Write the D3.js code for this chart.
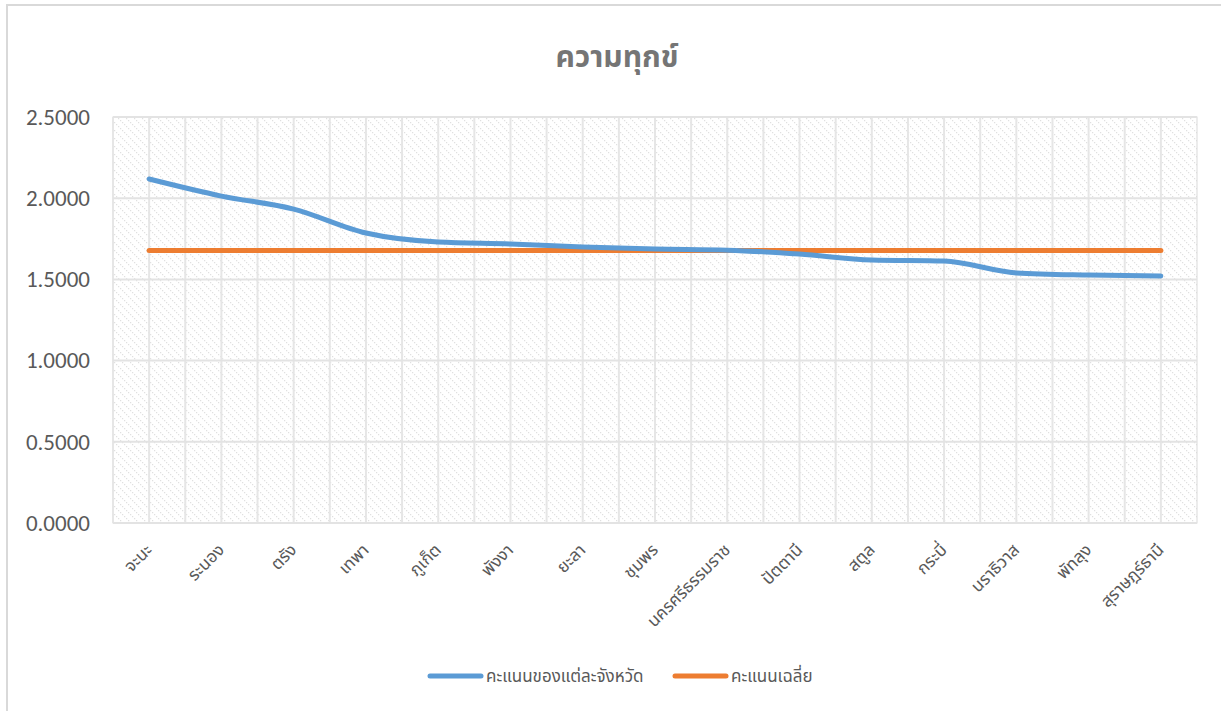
<!DOCTYPE html>
<html><head><meta charset="utf-8">
<script src="https://cdn.jsdelivr.net/npm/d3@7"></script>
<style>
body{margin:0;background:#fff;}
text{font-family:"Noto Sans Thai","Noto Sans","DejaVu Sans",sans-serif;}
</style></head>
<body>
<svg id="c" width="1221" height="711"></svg>
<script>
const categories = ["จะนะ","ระนอง","ตรัง","เทพา","ภูเก็ต","พังงา","ยะลา","ชุมพร","นครศรีธรรมราช","ปัตตานี","สตูล","กระบี่","นราธิวาส","พัทลุง","สุราษฎร์ธานี"];
const provinceScores = [2.118,2.013,1.933,1.786,1.730,1.718,1.700,1.687,1.680,1.656,1.620,1.613,1.540,1.527,1.521];
const averageScore = [1.678,1.678,1.678,1.678,1.678,1.678,1.678,1.678,1.678,1.678,1.678,1.678,1.678,1.678,1.678];
const yTicks = [0,0.5,1,1.5,2,2.5];
const seriesNames = ["คะแนนของแต่ละจังหวัด","คะแนนเฉลี่ย"];
const seriesColors = ["#5b9bd5","#ed7d31"];
const title = "ความทุกข์";

const svg = d3.select("#c");
const W=1221,H=711;
const m={left:113,right:1197,top:117,bottom:523};

svg.append("path").attr("d",`M7,${H} L7,5 L${W},5`).attr("fill","none").attr("stroke","#d9d9d9").attr("stroke-width",2);

const defs=svg.append("defs");
const pat=defs.append("pattern").attr("id","hatch").attr("width",8).attr("height",8).attr("patternUnits","userSpaceOnUse");
pat.append("rect").attr("width",8).attr("height",8).attr("fill","#fff");
for(let i=0;i<4;i++){
  pat.append("rect").attr("x",i*2).attr("y",i*2).attr("width",1.2).attr("height",1.2).attr("fill","#e0e0e0");
}

const x=d3.scaleBand().domain(categories).range([m.left,m.right]).padding(0);
const y=d3.scaleLinear().domain([0,2.5]).range([m.bottom,m.top]);

svg.append("rect").attr("x",m.left).attr("y",m.top).attr("width",m.right-m.left).attr("height",m.bottom-m.top)
  .attr("fill","url(#hatch)").attr("stroke","#d9d9d9").attr("stroke-width",1);

const vx=[];
categories.forEach(c=>{vx.push(x(c)); vx.push(x(c)+x.bandwidth()/2);});
svg.append("g").selectAll("line").data(vx).join("line")
  .attr("x1",d=>d).attr("x2",d=>d).attr("y1",m.top).attr("y2",m.bottom)
  .attr("stroke","#e6e6e6").attr("stroke-width",2);
svg.append("g").selectAll("line").data(yTicks).join("line")
  .attr("x1",m.left).attr("x2",m.right).attr("y1",d=>y(d)).attr("y2",d=>y(d))
  .attr("stroke","#e3e3e3").attr("stroke-width",2);

const yAxis=d3.axisLeft(y).tickValues(yTicks).tickFormat(d3.format(".4f")).tickSize(0).tickPadding(23);
const ga=svg.append("g").attr("transform",`translate(${m.left},0)`).call(yAxis);
ga.select(".domain").remove();
ga.selectAll("text").attr("font-size",23).attr("fill","#595959").style("font-family","Carlito,'Liberation Sans',Arial,sans-serif");

const xAxis=d3.axisBottom(x).tickSize(0).tickPadding(0);
const gx=svg.append("g").attr("transform",`translate(0,${m.bottom})`).call(xAxis);
gx.select(".domain").remove();
gx.selectAll("text").attr("font-size",17).attr("fill","#595959")
  .attr("text-anchor","end").attr("dy",0).attr("y",0)
  .attr("transform","translate(4,28) rotate(-45)");

const cx=d=>x(d)+x.bandwidth()/2;
const line=d3.line().x(d=>cx(d.c)).y(d=>y(d.v)).curve(d3.curveMonotoneX);
svg.append("path").datum(categories.map((c,i)=>({c,v:averageScore[i]})))
  .attr("d",line).attr("fill","none").attr("stroke",seriesColors[1]).attr("stroke-width",5).attr("stroke-linecap","round");
svg.append("path").datum(categories.map((c,i)=>({c,v:provinceScores[i]})))
  .attr("d",line).attr("fill","none").attr("stroke",seriesColors[0]).attr("stroke-width",5).attr("stroke-linecap","round");

svg.append("text").attr("x",617).attr("y",67).attr("text-anchor","middle").attr("font-size",30).attr("font-weight","bold").attr("fill","#757575").text(title);

const lg=svg.append("g");
const items=[{x:430,name:seriesNames[0],color:seriesColors[0]},{x:675,name:seriesNames[1],color:seriesColors[1]}];
items.forEach(it=>{
  lg.append("line").attr("x1",it.x).attr("x2",it.x+51).attr("y1",676).attr("y2",676).attr("stroke",it.color).attr("stroke-width",5).attr("stroke-linecap","round");
  lg.append("text").attr("x",it.x+56).attr("y",682).attr("font-size",17).attr("fill","#595959").text(it.name);
});
</script>
</body></html>
